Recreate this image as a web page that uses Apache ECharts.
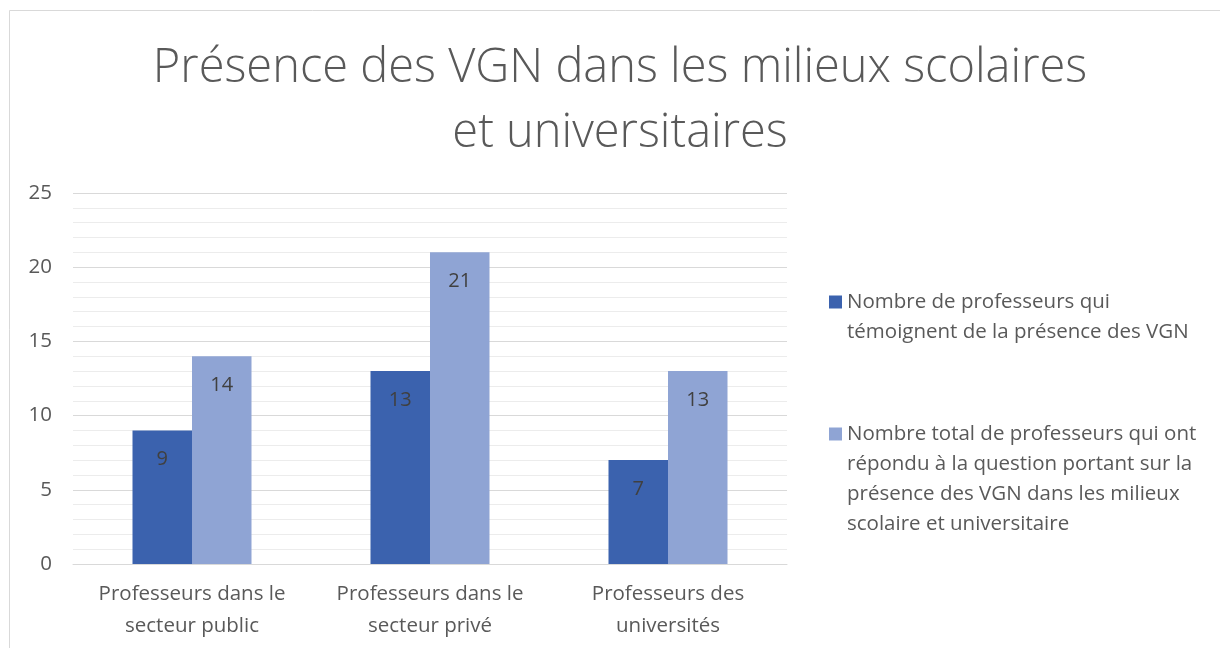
<!DOCTYPE html>
<html>
<head>
<meta charset="utf-8">
<script src="https://cdn.jsdelivr.net/npm/echarts@6/dist/echarts.min.js"></script>
<style>
  html, body { margin: 0; padding: 0; background: #ffffff; }
  #chart { width: 1220px; height: 648px; }
</style>
</head>
<body>
<div id="chart"></div>
<script>
// Categories (two-line axis labels)
const categories = [
  'Professeurs dans le\nsecteur public',
  'Professeurs dans le\nsecteur privé',
  'Professeurs des\nuniversités'
];

// Series names
const seriesNames = [
  'Nombre de professeurs qui\ntémoignent de la présence des VGN',
  'Nombre total de professeurs qui ont\nrépondu à la question portant sur la\nprésence des VGN dans les milieux\nscolaire et universitaire'
];

// Values
const witnessed = [9, 13, 7];
const answered = [14, 21, 13];

const titleText = 'Présence des VGN dans les milieux scolaires\net universitaires';

const FONT = '"Open Sans", "Noto Sans", sans-serif';
const TEXT_GREY = '#595959';
const DARK_BLUE = '#3B62AE';
const LIGHT_BLUE = '#8FA4D4';
const LABEL_SIZE = 20.5;

const chart = echarts.init(document.getElementById('chart'), null, { renderer: 'canvas' });

const LEGEND_LINE = 30;

// One legend per series so that each block sits at its own height.
// Leading blank lines keep the marker level with the first text line.
function legendFor(name, top) {
  const lines = name.split('\n').length;
  return {
    orient: 'vertical',
    left: 829,
    top: top,
    padding: 0,
    itemWidth: 13,
    itemHeight: 13,
    itemGap: 0,
    icon: 'rect',
    selectedMode: false,
    data: [name],
    formatter: function (n) {
      return '\n'.repeat(lines - 1) + n;
    },
    textStyle: {
      fontFamily: FONT,
      fontSize: LABEL_SIZE,
      color: TEXT_GREY,
      lineHeight: LEGEND_LINE
    }
  };
}

chart.setOption({
  backgroundColor: '#ffffff',
  animation: false,
  title: {
    text: titleText,
    left: 620,
    textAlign: 'center',
    top: 36,
    padding: 0,
    textStyle: {
      fontFamily: FONT,
      fontWeight: 300,
      fontSize: 47,
      lineHeight: 65,
      color: TEXT_GREY
    }
  },
  graphic: [{
    type: 'rect',
    shape: { x: 9.5, y: 10.5, width: 1240, height: 700 },
    style: { fill: 'none', stroke: '#d9d9d9', lineWidth: 1 },
    silent: true,
    z: -1
  }],
  legend: [
    legendFor(seriesNames[0], 257),
    legendFor(seriesNames[1], 329)
  ],
  grid: {
    left: 73,
    right: 433,
    top: 193,
    bottom: 84,
    containLabel: false
  },
  xAxis: {
    type: 'category',
    data: categories,
    axisLine: { show: true, lineStyle: { color: '#d9d9d9', width: 1 } },
    axisTick: { show: false },
    axisLabel: {
      fontFamily: FONT,
      fontSize: LABEL_SIZE,
      color: TEXT_GREY,
      lineHeight: 32,
      margin: 14,
      interval: 0
    },
    splitLine: { show: false }
  },
  yAxis: {
    type: 'value',
    min: 0,
    max: 25,
    interval: 5,
    axisLine: { show: false },
    axisTick: { show: false },
    axisLabel: {
      fontFamily: FONT,
      fontSize: LABEL_SIZE,
      color: TEXT_GREY,
      margin: 21
    },
    splitLine: { show: true, lineStyle: { color: '#d9d9d9', width: 1 } },
    minorTick: { show: false, splitNumber: 5 },
    minorSplitLine: { show: true, lineStyle: { color: '#ececec', width: 1 } }
  },
  series: [
    {
      name: seriesNames[0],
      type: 'bar',
      data: witnessed,
      barWidth: '25%',
      barGap: '0%',
      barCategoryGap: '50%',
      itemStyle: { color: DARK_BLUE },
      label: {
        show: true,
        position: 'insideTop',
        distance: 19,
        fontFamily: FONT,
        fontSize: 20,
        color: '#404040'
      }
    },
    {
      name: seriesNames[1],
      type: 'bar',
      data: answered,
      barWidth: '25%',
      barGap: '0%',
      barCategoryGap: '50%',
      itemStyle: { color: LIGHT_BLUE },
      label: {
        show: true,
        position: 'insideTop',
        distance: 19,
        fontFamily: FONT,
        fontSize: 20,
        color: '#404040'
      }
    }
  ]
});
</script>
</body>
</html>
